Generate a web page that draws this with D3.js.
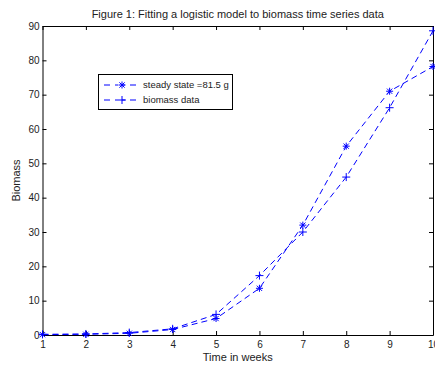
<!DOCTYPE html>
<html><head><meta charset="utf-8">
<script src="https://cdn.jsdelivr.net/npm/d3@7"></script>
<style>body{margin:0;background:#fff}svg{display:block}text{font-family:"Liberation Sans",Arial,sans-serif}</style>
</head><body>
<script>
const weeks = [1,2,3,4,5,6,7,8,9,10];
const modelValues = [0.1,0.2,0.5,1.6,4.8,13.6,32,55,71,78.2];
const biomassValues = [0.2,0.3,0.7,1.8,6.0,17.3,30,46,66.2,88.6];
const xTicks = [1,2,3,4,5,6,7,8,9,10];
const yTicks = [0,10,20,30,40,50,60,70,80,90];
const legendLabels = ["steady state =81.5 g","biomass data"];

const W=435,H=367;
const svg=d3.select("body").append("svg").attr("width",W).attr("height",H);
const L=42.5,R=433,T=26,B=335;
const x=d3.scaleLinear().domain([1,10]).range([L,R]);
const y=d3.scaleLinear().domain([0,90]).range([B,T]);
const blue="#0000ff";

// title
svg.append("text").attr("x",(L+R)/2).attr("y",18).attr("text-anchor","middle")
  .attr("font-size",11).attr("fill","#222").text("Figure 1: Fitting a logistic model to biomass time series data");

// axes with inward ticks
const tk=4;
const gB=svg.append("g").attr("transform",`translate(0,${B})`)
  .call(d3.axisBottom(x).tickValues(xTicks).tickSizeInner(-tk).tickSizeOuter(0).tickPadding(6).tickFormat(d3.format("d")));
const gT=svg.append("g").attr("transform",`translate(0,${T})`)
  .call(d3.axisTop(x).tickValues(xTicks).tickSizeInner(-tk).tickSizeOuter(0).tickFormat(""));
const gL=svg.append("g").attr("transform",`translate(${L},0)`)
  .call(d3.axisLeft(y).tickValues(yTicks).tickSizeInner(-tk).tickSizeOuter(0).tickPadding(3).tickFormat(d3.format("d")));
const gR=svg.append("g").attr("transform",`translate(${R},0)`)
  .call(d3.axisRight(y).tickValues(yTicks).tickSizeInner(-tk).tickSizeOuter(0).tickFormat(""));
[gB,gT,gL,gR].forEach(g=>{
  g.selectAll("path.domain").attr("stroke","#000").attr("stroke-width",1);
  g.selectAll("line").attr("stroke","#000");
  g.selectAll("text").attr("font-size",10).attr("fill","#222").attr("font-family",'"Liberation Sans",Arial,sans-serif');
});
gB.selectAll("text").attr("dy","0.71em");

// axis labels
svg.append("text").attr("x",(L+R)/2).attr("y",361).attr("text-anchor","middle")
  .attr("font-size",11).attr("fill","#222").text("Time in weeks");
svg.append("text").attr("transform",`translate(20,${(T+B)/2}) rotate(-90)`).attr("text-anchor","middle")
  .attr("font-size",11).attr("fill","#222").text("Biomass");

// lines
const line=d3.line().x(d=>x(d[0])).y(d=>y(d[1]));
const modelPts=weeks.map((w,i)=>[w,modelValues[i]]);
const dataPts=weeks.map((w,i)=>[w,biomassValues[i]]);
[modelPts,dataPts].forEach(p=>{
  svg.append("path").attr("d",line(p)).attr("fill","none").attr("stroke",blue)
    .attr("stroke-width",1).attr("stroke-dasharray","6,4");
});

function star(g,cx,cy,s){
  const r=s/2, d=r*0.75;
  g.append("path").attr("d",`M${cx-r},${cy}H${cx+r}M${cx},${cy-r}V${cy+r}M${cx-d},${cy-d}L${cx+d},${cy+d}M${cx-d},${cy+d}L${cx+d},${cy-d}`)
   .attr("stroke",blue).attr("stroke-width",1).attr("fill","none");
}
function plus(g,cx,cy,s){
  const r=s/2;
  g.append("path").attr("d",`M${cx-r},${cy}H${cx+r}M${cx},${cy-r}V${cy+r}`)
   .attr("stroke",blue).attr("stroke-width",1).attr("fill","none");
}
const mk=svg.append("g");
modelPts.forEach(d=>star(mk,x(d[0]),y(d[1]),7));
dataPts.forEach(d=>plus(mk,x(d[0]),y(d[1]),8));

// legend
const lg=svg.append("g");
lg.append("rect").attr("x",98.5).attr("y",74.5).attr("width",134).attr("height",35)
  .attr("fill","#fff").attr("stroke","#000").attr("stroke-width",1);
const rows=[85,100];
rows.forEach((ry,i)=>{
  lg.append("line").attr("x1",104).attr("x2",140).attr("y1",ry).attr("y2",ry)
    .attr("stroke",blue).attr("stroke-width",1).attr("stroke-dasharray","6,5,3,4,3,5,6");
  if(i===0) star(lg,122,ry,7); else plus(lg,122,ry,8);
  lg.append("text").attr("x",143).attr("y",ry).attr("dy","0.35em").attr("font-size",9.5)
    .attr("fill","#222").text(legendLabels[i]);
});
</script>
</body></html>
